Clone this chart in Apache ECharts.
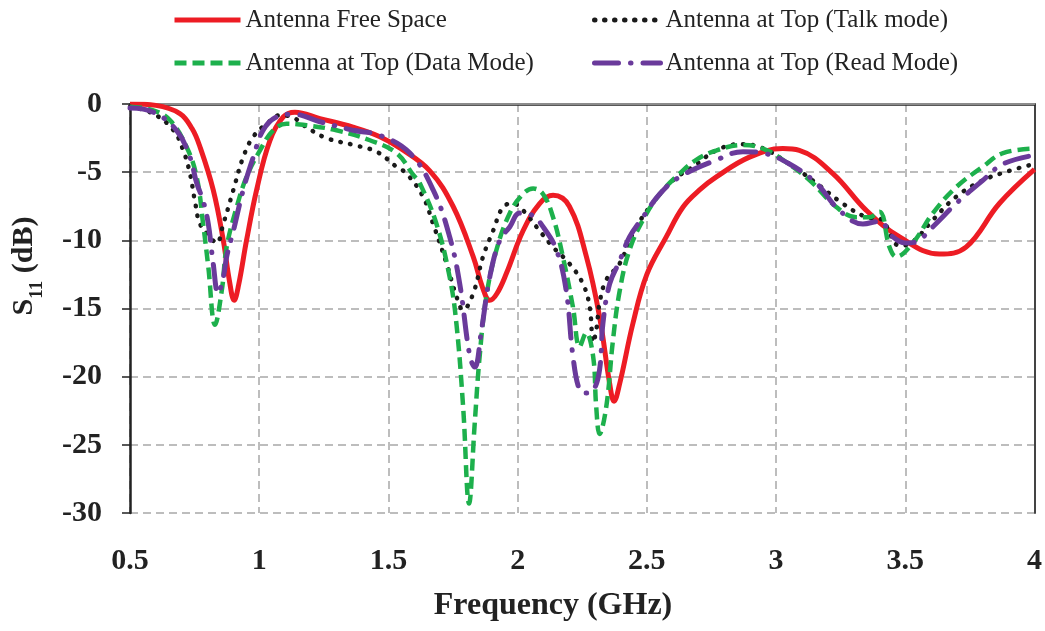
<!DOCTYPE html>
<html style="height: 100%">
<head>
<meta charset="utf-8">
</head>
<body style="height: 100%; margin: 0; background: #fff">
<div id="container" style="width: 1045px; height: 631px"></div>
<script type="text/javascript" src="https://cdn.jsdelivr.net/npm/echarts@6/dist/echarts.min.js"></script>
<script type="text/javascript">
// S11 curves, [frequency GHz, dB]
var freeSpace = [
    [0.5, 0], [0.6, -0.1], [0.693, -0.7], [0.74, -1.8], [0.77, -3.1], [0.822, -6.3],
    [0.861, -10], [0.885, -13], [0.903, -14.4], [0.92, -13.3], [0.951, -10], [0.99, -6.3],
    [1.041, -2.7], [1.093, -0.95], [1.138, -0.6], [1.235, -1.07], [1.363, -1.7], [1.467, -2.4],
    [1.55, -3.3], [1.66, -4.9], [1.75, -7.5], [1.828, -11.2], [1.865, -13.5], [1.892, -14.4],
    [1.92, -13.9], [1.957, -12.4], [2.021, -9.3], [2.085, -7.3], [2.137, -6.7], [2.2, -7.5],
    [2.266, -11.2], [2.317, -15.6], [2.356, -20.5], [2.373, -21.8], [2.395, -20.5], [2.446, -16.1],
    [2.5, -12.5], [2.575, -9.75], [2.64, -7.55], [2.704, -6.3], [2.769, -5.35], [2.897, -3.9],
    [3.026, -3.27], [3.09, -3.4], [3.22, -5.1], [3.349, -7.8], [3.478, -9.75], [3.632, -11],
    [3.735, -10.5], [3.864, -7.3], [4.0, -4.8]
];
var talkMode = [
    [0.5, -0.2], [0.589, -0.7], [0.667, -1.9], [0.706, -3.4], [0.732, -5.1], [0.751, -7.1],
    [0.771, -8.8], [0.809, -9.75], [0.835, -10.2], [0.861, -8.8], [0.9, -6.3], [0.938, -3.9],
    [0.977, -2.4], [1.029, -1.45], [1.08, -0.83], [1.12, -0.9], [1.183, -1.7], [1.26, -2.5],
    [1.364, -3.0], [1.454, -3.5], [1.531, -4.6], [1.57, -5.1], [1.634, -6.8], [1.673, -8.8],
    [1.725, -11.7], [1.763, -14.1], [1.789, -15.1], [1.828, -13.9], [1.866, -11.2], [1.905, -9.3],
    [1.944, -7.55], [1.982, -7.3], [2.021, -7.8], [2.085, -9.3], [2.137, -10.5], [2.2, -11.7],
    [2.253, -13.2], [2.279, -14.9], [2.292, -17.5], [2.305, -16.5], [2.317, -14.6], [2.343, -12.9],
    [2.395, -11.7], [2.446, -9.5], [2.511, -7.55], [2.601, -5.6], [2.679, -4.6], [2.769, -3.4],
    [2.859, -2.95], [2.936, -3.15], [3.052, -4.4], [3.155, -5.8], [3.258, -7.3], [3.349, -8.3],
    [3.413, -8.5], [3.439, -9.5], [3.478, -10.4], [3.529, -10.1], [3.607, -8.5], [3.697, -6.8],
    [3.8, -5.6], [3.903, -4.9], [4.0, -4.4]
];
var dataMode = [
    [0.5, -0.2], [0.59, -0.46], [0.655, -1.2], [0.719, -3.15], [0.758, -5.35], [0.783, -8.8],
    [0.803, -11.95], [0.829, -16.2], [0.855, -13.7], [0.874, -10.5], [0.913, -7.55], [0.951, -5.35],
    [1.003, -3.4], [1.054, -1.93], [1.106, -1.44], [1.183, -1.56], [1.299, -1.93], [1.428, -2.66],
    [1.531, -3.6], [1.596, -5.2], [1.621, -5.8], [1.686, -8.8], [1.737, -12.7], [1.763, -16.1],
    [1.789, -22.2], [1.812, -29.3], [1.834, -23.4], [1.853, -18.5], [1.879, -14.1], [1.918, -10.7],
    [1.97, -8.0], [2.021, -6.6], [2.06, -6.2], [2.098, -6.6], [2.137, -8.3], [2.175, -11.2],
    [2.214, -14.9], [2.24, -17.8], [2.265, -16.8], [2.292, -18.5], [2.304, -22.2], [2.317, -24.2],
    [2.343, -22.2], [2.369, -17.3], [2.395, -13.7], [2.433, -10.7], [2.485, -8.5], [2.55, -6.6],
    [2.627, -5.1], [2.691, -4.1], [2.77, -3.4], [2.872, -3.0], [2.949, -3.27], [3.026, -4.1],
    [3.13, -5.6], [3.233, -7.55], [3.31, -8.3], [3.362, -8.3], [3.4, -7.9], [3.439, -10.5],
    [3.465, -11.2], [3.529, -10.2], [3.607, -8.0], [3.697, -6.1], [3.8, -4.6], [3.878, -3.6],
    [4.0, -3.27]
];
var readMode = [
    [0.5, -0.3], [0.59, -0.6], [0.68, -1.93], [0.732, -3.9], [0.758, -5.8], [0.783, -7.1],
    [0.803, -8.8], [0.822, -11.7], [0.841, -13.9], [0.86, -12.8], [0.874, -11.2], [0.9, -9.3],
    [0.938, -6.3], [0.977, -3.9], [1.015, -1.93], [1.067, -0.95], [1.131, -0.75], [1.235, -1.3],
    [1.364, -1.93], [1.467, -2.3], [1.583, -3.6], [1.673, -6.3], [1.737, -9.75], [1.776, -13.2],
    [1.815, -18.5], [1.834, -19.3], [1.86, -16.6], [1.892, -12.7], [1.931, -10.0], [1.97, -9.0],
    [2.008, -8.0], [2.06, -8.2], [2.098, -9.0], [2.15, -10.7], [2.188, -13.7], [2.214, -18.5],
    [2.24, -21.0], [2.266, -21.2], [2.293, -21.0], [2.317, -19.5], [2.33, -16.1], [2.356, -13.2],
    [2.395, -11.5], [2.433, -9.75], [2.485, -8.3], [2.55, -6.6], [2.627, -5.35], [2.769, -4.1],
    [2.872, -3.5], [2.949, -3.6], [3.052, -4.4], [3.155, -5.8], [3.245, -7.8], [3.336, -8.8],
    [3.4, -8.6], [3.452, -9.75], [3.503, -10.2], [3.542, -10.1], [3.607, -9.0], [3.697, -7.3],
    [3.8, -5.6], [3.878, -4.4], [4.0, -3.76]
];
var seriesNames = [
    'Antenna Free Space',
    'Antenna at Top (Talk mode)',
    'Antenna at Top (Data Mode)',
    'Antenna at Top (Read Mode)'
];

var serif = "'Liberation Serif', 'Times New Roman', serif";
var myChart = echarts.init(document.getElementById('container'));

function curve(name, data, color, width, dash, cap) {
    return {
        name: name,
        type: 'line',
        data: data,
        symbol: 'none',
        smooth: 0.4,
        lineStyle: {color: color, width: width, type: dash, cap: cap || 'butt'},
        itemStyle: {color: color}
    };
}

var legendText = {fontFamily: serif, fontSize: 25, color: '#222', lineHeight: 26};
var hiddenDot = {color: 'rgba(0,0,0,0)', borderColor: 'rgba(0,0,0,0)', borderWidth: 0};

var option = {
    animation: false,
    backgroundColor: '#fff',
    grid: {left: 130, right: 10, top: 104, bottom: 118},
    legend: [
        {
            data: [seriesNames[0], seriesNames[2]],
            orient: 'vertical', left: 167, top: 2, itemGap: 17,
            itemWidth: 66, itemHeight: 14, textStyle: legendText,
            itemStyle: hiddenDot, lineStyle: {width: 5}
        },
        {
            data: [seriesNames[1], seriesNames[3]],
            orient: 'vertical', left: 587, top: 2, itemGap: 17,
            itemWidth: 66, itemHeight: 14, textStyle: legendText,
            itemStyle: hiddenDot, lineStyle: {width: 5}
        }
    ],
    xAxis: [
        {
            type: 'value', min: 0.5, max: 4, interval: 0.5,
            axisLine: {lineStyle: {color: '#222', width: 2.5}},
            axisTick: {show: false},
            axisLabel: {fontFamily: serif, fontWeight: 'bold', fontSize: 30, color: '#222', margin: 33},
            splitLine: {lineStyle: {color: '#bdbdbd', width: 2, type: [8, 5]}}
        },
        {
            type: 'value', min: 0.5, max: 4, position: 'top',
            axisLine: {show: true, lineStyle: {color: '#8c8c8c', width: 2}},
            axisTick: {show: false}, axisLabel: {show: false}, splitLine: {show: false}
        }
    ],
    yAxis: [
        {
            type: 'value', min: -30, max: 0, interval: 5,
            axisLine: {show: true, lineStyle: {color: '#222', width: 2.5}},
            axisTick: {show: true, length: 8, lineStyle: {color: '#222', width: 1.5}},
            axisLabel: {fontFamily: serif, fontWeight: 'bold', fontSize: 30, color: '#222', margin: 28},
            splitLine: {lineStyle: {color: '#bdbdbd', width: 2, type: [8, 5]}}
        },
        {
            type: 'value', min: -30, max: 0, position: 'right',
            axisLine: {show: true, lineStyle: {color: '#444', width: 2}},
            axisTick: {show: false}, axisLabel: {show: false}, splitLine: {show: false}
        }
    ],
    graphic: [
        {
            type: 'text', x: 553, y: 606,
            style: {
                text: 'Frequency (GHz)', font: 'bold 32px ' + serif, fill: '#222',
                align: 'center', verticalAlign: 'middle'
            }
        },
        {
            type: 'text', x: 28, y: 266, rotation: Math.PI / 2,
            style: {
                text: '{s|S}{b|11}{s| (dB)}',
                align: 'center', verticalAlign: 'middle', fill: '#222',
                rich: {
                    s: {fontFamily: serif, fontWeight: 'bold', fontSize: 30, fill: '#222', verticalAlign: 'bottom', padding: [0, 0, 7, 0]},
                    b: {fontFamily: serif, fontWeight: 'bold', fontSize: 19, fill: '#222', verticalAlign: 'bottom'}
                }
            }
        }
    ],
    series: [
        curve(seriesNames[0], freeSpace, '#ED1C24', 5),
        curve(seriesNames[1], talkMode, '#1a1a1a', 4.5, [0.5, 9.5], 'round'),
        curve(seriesNames[2], dataMode, '#1DB04C', 4.5, [12, 6]),
        curve(seriesNames[3], readMode, '#6A3A9B', 5, [24, 12, 0.5, 12], 'round')
    ]
};

myChart.setOption(option);
</script>
</body>
</html>
